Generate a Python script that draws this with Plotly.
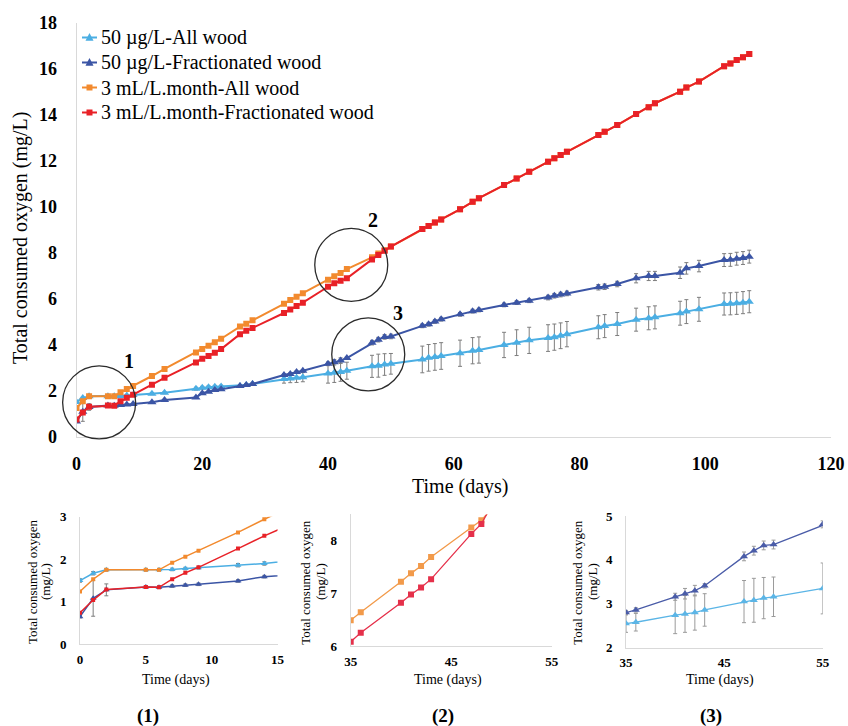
import plotly.graph_objects as go

W, H = 848, 726
SERIF = "Liberation Serif"

# ---------------- data (main chart) ----------------
days = [0, 1, 2, 5, 6, 7, 8, 9, 12, 14, 19, 20, 21, 22, 23, 26, 27, 28, 33, 34, 35, 36,
        40, 41, 42, 43, 47, 48, 49, 50, 55, 56, 57, 58, 61, 63, 64, 68, 70, 72, 75, 76,
        77, 78, 83, 84, 86, 89, 91, 92, 96, 97, 99, 103, 104, 105, 106, 107]

lb = [1.50, 1.67, 1.75, 1.75, 1.75, 1.76, 1.78, 1.80, 1.86, 1.90, 2.08, 2.12, 2.14, 2.16, 2.17,
      2.20, 2.24, 2.28, 2.50, 2.52, 2.55, 2.58, 2.74, 2.77, 2.80, 2.86, 3.05, 3.08, 3.13, 3.16,
      3.35, 3.42, 3.46, 3.50, 3.62, 3.73, 3.76, 3.98, 4.08, 4.18, 4.28, 4.32, 4.38, 4.45, 4.75,
      4.80, 4.89, 5.08, 5.14, 5.18, 5.36, 5.43, 5.53, 5.76, 5.77, 5.79, 5.82, 5.86]
lb_err = [0.04, 0.04, 0.03, 0.03, 0.03, 0.03, 0.03, 0.03, 0.04, 0.04, 0.06, 0.06, 0.06, 0.06, 0.06,
          0.06, 0.06, 0.06, 0.18, 0.18, 0.20, 0.20, 0.42, 0.42, 0.40, 0.37, 0.48, 0.50, 0.47, 0.45,
          0.58, 0.58, 0.58, 0.58, 0.57, 0.57, 0.57, 0.55, 0.56, 0.57, 0.58, 0.57, 0.56, 0.55, 0.50,
          0.50, 0.50, 0.50, 0.50, 0.50, 0.52, 0.52, 0.52, 0.48, 0.48, 0.48, 0.48, 0.48]

db = [0.65, 1.08, 1.28, 1.35, 1.34, 1.37, 1.39, 1.41, 1.49, 1.59, 1.70, 1.88, 1.95, 2.02, 2.05,
      2.20, 2.24, 2.28, 2.67, 2.72, 2.80, 2.86, 3.16, 3.23, 3.30, 3.41, 4.08, 4.21, 4.33, 4.35,
      4.81, 4.88, 5.00, 5.10, 5.31, 5.45, 5.50, 5.72, 5.82, 5.90, 6.04, 6.12, 6.17, 6.22, 6.49,
      6.51, 6.63, 6.88, 6.98, 6.98, 7.12, 7.31, 7.41, 7.67, 7.68, 7.73, 7.76, 7.82]
db_err = [0.03, 0.42, 0.14, 0.03, 0.03, 0.03, 0.03, 0.03, 0.03, 0.03, 0.03, 0.03, 0.03, 0.03, 0.03,
          0.03, 0.03, 0.03, 0.05, 0.05, 0.05, 0.05, 0.08, 0.12, 0.12, 0.05, 0.10, 0.10, 0.10, 0.10,
          0.08, 0.08, 0.08, 0.08, 0.08, 0.08, 0.08, 0.08, 0.08, 0.08, 0.10, 0.10, 0.10, 0.10, 0.12,
          0.12, 0.12, 0.20, 0.20, 0.20, 0.25, 0.25, 0.25, 0.28, 0.28, 0.28, 0.28, 0.28]

orw = [1.24, 1.53, 1.75, 1.75, 1.75, 1.92, 2.06, 2.20, 2.63, 2.94, 3.65, 3.80, 3.95, 4.10, 4.25,
       4.78, 4.90, 5.05, 5.77, 5.93, 6.08, 6.23, 6.82, 6.97, 7.11, 7.28, 7.79, 7.96, 8.10, 8.26,
       9.02, 9.15, 9.30, 9.44, 9.88, 10.21, 10.36, 10.93, 11.22, 11.51, 11.95, 12.10, 12.24, 12.38,
       13.11, 13.25, 13.54, 14.02, 14.31, 14.49, 14.99, 15.17, 15.43, 16.10, 16.22, 16.37, 16.49, 16.63]

rd = [0.74, 1.04, 1.29, 1.35, 1.34, 1.53, 1.68, 1.81, 2.25, 2.55, 3.22, 3.38, 3.50, 3.64, 3.80,
      4.45, 4.60, 4.72, 5.37, 5.52, 5.67, 5.82, 6.51, 6.66, 6.77, 6.88, 7.70, 7.89, 8.08, 8.26,
      9.02, 9.15, 9.30, 9.44, 9.88, 10.21, 10.36, 10.93, 11.22, 11.51, 11.95, 12.10, 12.24, 12.38,
      13.11, 13.25, 13.54, 14.02, 14.31, 14.49, 14.99, 15.17, 15.43, 16.10, 16.22, 16.37, 16.49, 16.63]

# ---------------- data (inset 2, as printed in the inset) ----------------
days2 = [35, 36, 40, 41, 42, 43, 47, 48, 49]
or2 = [6.49, 6.64, 7.22, 7.38, 7.52, 7.69, 8.25, 8.39, 8.60]
rd2 = [6.08, 6.25, 6.82, 6.98, 7.11, 7.27, 8.13, 8.32, 8.66]

names = ["50 µg/L-All wood", "50 µg/L-Fractionated wood",
         "3 mL/L.month-All wood", "3 mL/L.month-Fractionated wood"]
colors = ["#4BAEE3", "#3B55A5", "#F28A2E", "#E82127"]
symbols = ["triangle-up", "triangle-up", "square", "square"]

# zoom circles (centre in data units) and their labels
circle_centres = [(3.6, 1.48), (43.7, 7.46), (46.4, 3.57)]
circle_labels = ["1", "2", "3"]
label_pos = [(8.4, 3.3), (47.2, 9.41), (51.2, 5.36)]
captions = ["(1)", "(2)", "(3)"]

# ---------------- geometry (pixels) ----------------
MX0, MX1, MY0, MY1 = 76.5, 831.0, 22.5, 436.5
insets = [
    dict(x=(80, 277.5), y=(516.7, 644.3), xr=[0, 15], yr=[0, 3], xd=5, x0=0),
    dict(x=(350.7, 551.7), y=(514.4, 646.0), xr=[35, 55], yr=[6, 8.5], xd=10, x0=35),
    dict(x=(626, 822.7), y=(516.0, 647.7), xr=[35, 55], yr=[2, 5], xd=10, x0=35),
]

def px(xp):
    return xp / W

def py(yp):
    return 1 - yp / H

fig = go.Figure()

def err(arr):
    return dict(type="data", array=arr, color="#7d7d7d", thickness=1, width=2)

series = [(lb, lb_err, 8), (db, db_err, 8), (orw, None, 6), (rd, None, 6)]

# main chart
for i, (vals, e, ms) in enumerate(series):
    fig.add_trace(go.Scatter(
        x=days, y=vals, name=names[i], mode="lines+markers",
        line=dict(color=colors[i], width=2),
        marker=dict(symbol=symbols[i], size=ms, color=colors[i]),
        error_y=err(e) if e else None,
        xaxis="x", yaxis="y", showlegend=False))

# inset 1: all four series, days 0-15
for i, (vals, e, ms) in enumerate(series):
    fig.add_trace(go.Scatter(
        x=days, y=vals, mode="lines+markers", showlegend=False,
        line=dict(color=colors[i], width=1.5),
        marker=dict(symbol=symbols[i], size=ms - 2, color=colors[i]),
        error_y=err(e) if e else None,
        xaxis="x2", yaxis="y2"))

# inset 2: orange / red
for vals, c in [(or2, "#F29A4A"), (rd2, "#E5304A")]:
    fig.add_trace(go.Scatter(
        x=days2, y=vals, mode="lines+markers", showlegend=False,
        line=dict(color=c, width=1.3),
        marker=dict(symbol="square", size=6, color=c),
        xaxis="x3", yaxis="y3"))

# inset 3: blues
for vals, e, c in [(lb, lb_err, "#5BB5E6"), (db, db_err, "#4A5CA8")]:
    fig.add_trace(go.Scatter(
        x=days, y=vals, mode="lines+markers", showlegend=False,
        line=dict(color=c, width=1.3),
        marker=dict(symbol="triangle-up", size=7, color=c),
        error_y=dict(type="data", array=e, color="#9a9a9a", thickness=1, width=2),
        xaxis="x4", yaxis="y4"))

axcommon = dict(showline=True, linecolor="#d9d9d9", linewidth=1, showgrid=False,
                zeroline=False, ticks="", automargin=False)

layout = dict(
    width=W, height=H, margin=dict(l=0, r=0, t=0, b=0, autoexpand=False),
    paper_bgcolor="white", plot_bgcolor="white",
    font=dict(family=SERIF, color="black"),
    xaxis=dict(domain=[px(MX0), px(MX1)], range=[0, 120], dtick=20, tick0=0,
               tickfont=dict(family=SERIF, size=18, weight="bold", color="black"),
               ticklabelstandoff=11, anchor="y", **axcommon),
    yaxis=dict(domain=[py(MY1), py(MY0)], range=[0, 18], dtick=2, tick0=0,
               tickfont=dict(family=SERIF, size=18, weight="bold", color="black"),
               ticklabelstandoff=15, anchor="x", **axcommon),
    showlegend=False,
)
for k, ins in enumerate(insets, start=2):
    layout[f"xaxis{k}"] = dict(domain=[px(ins["x"][0]), px(ins["x"][1])], range=ins["xr"],
                               dtick=ins["xd"], tick0=ins["x0"], anchor=f"y{k}",
                               tickfont=dict(family=SERIF, size=13, weight="bold", color="black"),
                               ticklabelstandoff=3, **axcommon)
    layout[f"yaxis{k}"] = dict(domain=[py(ins["y"][1]), py(ins["y"][0])], range=ins["yr"],
                               dtick=1, anchor=f"x{k}",
                               tickfont=dict(family=SERIF, size=13, weight="bold", color="black"),
                               ticklabelstandoff=10, **axcommon)
fig.update_layout(**layout)

# circles
def data_to_px(xv, yv):
    return (MX0 + xv / 120 * (MX1 - MX0), MY1 - yv / 18 * (MY1 - MY0))

R = 36.5
for (cx, cy) in circle_centres:
    xp, yp = data_to_px(cx, cy)
    fig.add_shape(type="circle", xref="paper", yref="paper",
                  x0=px(xp - R), x1=px(xp + R), y0=py(yp + R), y1=py(yp - R),
                  line=dict(color="#2b2b2b", width=1.3), fillcolor="rgba(0,0,0,0)")
for lab, (lx, ly) in zip(circle_labels, label_pos):
    fig.add_annotation(x=lx, y=ly, xref="x", yref="y", text=lab, showarrow=False,
                       font=dict(family=SERIF, size=20, weight="bold", color="black"))

def txt(xp, yp, t, size, bold=False, angle=0, xanchor="center"):
    fig.add_annotation(x=px(xp), y=py(yp), xref="paper", yref="paper", text=t,
                       showarrow=False, textangle=angle, xanchor=xanchor, yanchor="middle",
                       font=dict(family=SERIF, size=size, color="black",
                                 weight="bold" if bold else "normal"))

# legend (drawn by hand to match the tight row spacing)
LEG_X0, LEG_X1, LEG_TX, LEG_Y0, LEG_DY = 82, 97, 99, 37.5, 25
for i, name in enumerate(names):
    yc = LEG_Y0 + i * LEG_DY
    fig.add_shape(type="line", xref="paper", yref="paper",
                  x0=px(LEG_X0), x1=px(LEG_X1), y0=py(yc), y1=py(yc),
                  line=dict(color=colors[i], width=2))
    xm = (LEG_X0 + LEG_X1) / 2
    if symbols[i] == "square":
        s = 3
        fig.add_shape(type="rect", xref="paper", yref="paper",
                      x0=px(xm - s), x1=px(xm + s), y0=py(yc + s), y1=py(yc - s),
                      line=dict(width=0), fillcolor=colors[i])
    else:
        s = 4
        path = (f"M {px(xm - s)},{py(yc + s * 0.8)} L {px(xm + s)},{py(yc + s * 0.8)} "
                f"L {px(xm)},{py(yc - s * 1.1)} Z")
        fig.add_shape(type="path", xref="paper", yref="paper", path=path,
                      line=dict(width=0), fillcolor=colors[i])
    txt(LEG_TX, yc, name, 20, xanchor="left")

# main axis titles
txt(460, 487, "Time (days)", 20)
txt(20, 238, "Total consumed oxygen (mg/L)", 20, angle=-90)

# inset titles
for cap, (tx, capx, y1x, y2x) in zip(captions, [(176, 148, 32, 45), (448, 443, 304.7, 320),
                                             (720, 711, 576.7, 592)]):
    txt(tx, 680, "Time (days)", 14)
    txt(capx, 716, cap, 19, bold=True)
    txt(y1x, 582, "Total consumed oxygen", 13, angle=-90)
    txt(y2x, 582, "(mg/L)", 13, angle=-90)

fig.write_html("out.html", post_script="var s=document.createElement('style');"
               "s.innerHTML='html,body{margin:0 !important;padding:0 !important;overflow:hidden;}';"
               "document.head.appendChild(s);")
